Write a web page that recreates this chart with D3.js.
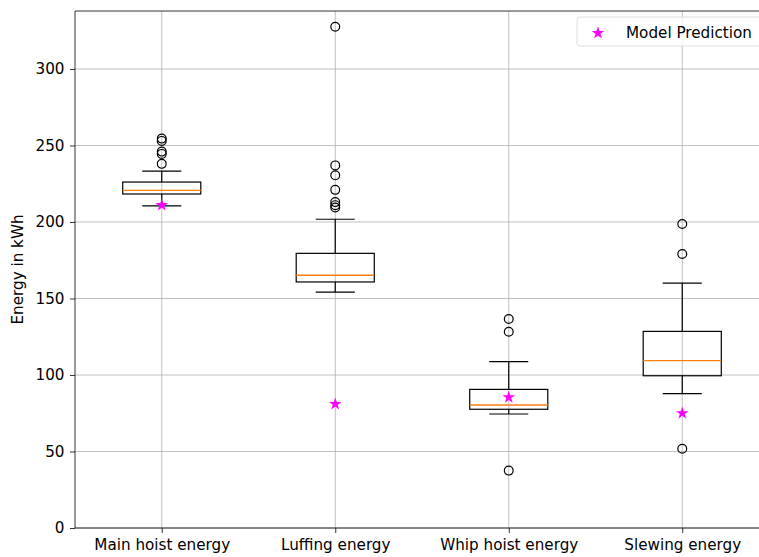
<!DOCTYPE html>
<html>
<head>
<meta charset="utf-8">
<script src="https://cdn.jsdelivr.net/npm/d3@7"></script>
<style>
    body { margin: 0; background: #fff; }
    svg { display: block; font-family: "DejaVu Sans", sans-serif; }
</style>
</head>
<body>
<div id="chart"></div>
<script>
const categories = ['Main hoist energy', 'Luffing energy', 'Whip hoist energy', 'Slewing energy'];
const q1 = [218.3, 160.8, 77.6, 99.5];
const medians = [220.7, 165.2, 80.4, 109.4];
const q3 = [226.1, 179.5, 90.6, 128.5];
const whiskerLow = [210.5, 154.2, 74.5, 87.8];
const whiskerHigh = [233.3, 201.8, 108.7, 160.1];
const outliers = [
    [254.5, 253, 246, 244.5, 238],
    [327.6, 237, 230.5, 221, 213, 211, 209.5],
    [136.6, 128.3, 37.5],
    [198.7, 179.1, 51.8]
];
const predictions = [211, 81, 85.4, 75];
const yTicks = [0, 50, 100, 150, 200, 250, 300];

const width = 759,
    height = 557;
const margin = { top: 11, left: 75, bottom: 29 };
const plotRight = 769; // right spine sits outside the cropped picture
const fontSize = 15.2;

const svg = d3.select('#chart')
    .append('svg')
    .attr('width', width)
    .attr('height', height);

const x = d3.scaleLinear()
    .domain([0.5, 4.5])
    .range([margin.left, plotRight]);

const y = d3.scaleLinear()
    .domain([0, 337.9])
    .range([height - margin.bottom, margin.top]);

const boxW = x(1.45) - x(1);
const capW = boxW / 2;

// grid
svg.append('g')
    .selectAll('line.gy')
    .data(yTicks)
    .join('line')
    .attr('x1', margin.left).attr('x2', plotRight)
    .attr('y1', d => y(d)).attr('y2', d => y(d))
    .attr('stroke', '#b0b0b0').attr('stroke-width', 0.8);

svg.append('g')
    .selectAll('line.gx')
    .data(categories)
    .join('line')
    .attr('x1', (d, i) => x(i + 1)).attr('x2', (d, i) => x(i + 1))
    .attr('y1', y.range()[1]).attr('y2', y.range()[0])
    .attr('stroke', '#b0b0b0').attr('stroke-width', 0.8);

// axes
const yAxis = svg.append('g')
    .attr('transform', 'translate(' + margin.left + ',0)')
    .call(d3.axisLeft(y).tickValues(yTicks).tickSize(5).tickPadding(5.5).tickSizeOuter(0));

const xAxis = svg.append('g')
    .attr('transform', 'translate(0,' + y(0) + ')')
    .call(d3.axisBottom(x).tickValues([1, 2, 3, 4]).tickFormat((d) => categories[d - 1])
        .tickSize(5).tickPadding(6.5).tickSizeOuter(0));

[yAxis, xAxis].forEach(function(g) {
    g.select('.domain').remove();
    g.selectAll('text').attr('font-size', fontSize).attr('fill', '#000')
        .attr('font-family', '"DejaVu Sans", sans-serif');
    g.selectAll('line').attr('stroke', '#000').attr('stroke-width', 0.8);
});

// spines
svg.append('path')
    .attr('d', 'M' + plotRight + ',' + y.range()[1] + 'H' + margin.left + 'V' + y(0) + 'H' + plotRight)
    .attr('fill', 'none')
    .attr('stroke', '#000')
    .attr('stroke-width', 0.8);

svg.append('text')
    .attr('transform', 'translate(22.5,' + ((y.range()[0] + y.range()[1]) / 2) + ') rotate(-90)')
    .attr('text-anchor', 'middle')
    .attr('font-size', fontSize)
    .text('Energy in kWh');

// boxes
const boxes = svg.append('g')
    .selectAll('g')
    .data(categories)
    .join('g');

boxes.append('line')
    .attr('x1', (d, i) => x(i + 1)).attr('x2', (d, i) => x(i + 1))
    .attr('y1', (d, i) => y(q3[i])).attr('y2', (d, i) => y(whiskerHigh[i]))
    .attr('stroke', '#000').attr('stroke-width', 1.2);

boxes.append('line')
    .attr('x1', (d, i) => x(i + 1)).attr('x2', (d, i) => x(i + 1))
    .attr('y1', (d, i) => y(q1[i])).attr('y2', (d, i) => y(whiskerLow[i]))
    .attr('stroke', '#000').attr('stroke-width', 1.2);

boxes.selectAll('line.cap')
    .data((d, i) => [[i, whiskerLow[i]], [i, whiskerHigh[i]]])
    .join('line')
    .attr('x1', d => x(d[0] + 1) - capW / 2).attr('x2', d => x(d[0] + 1) + capW / 2)
    .attr('y1', d => y(d[1])).attr('y2', d => y(d[1]))
    .attr('stroke', '#000').attr('stroke-width', 1.2);

boxes.append('rect')
    .attr('x', (d, i) => x(i + 1) - boxW / 2)
    .attr('y', (d, i) => y(q3[i]))
    .attr('width', boxW)
    .attr('height', (d, i) => y(q1[i]) - y(q3[i]))
    .attr('fill', 'none')
    .attr('stroke', '#000').attr('stroke-width', 1.2);

boxes.append('line')
    .attr('x1', (d, i) => x(i + 1) - boxW / 2).attr('x2', (d, i) => x(i + 1) + boxW / 2)
    .attr('y1', (d, i) => y(medians[i])).attr('y2', (d, i) => y(medians[i]))
    .attr('stroke', '#ff7f0e').attr('stroke-width', 1.3);

boxes.selectAll('circle')
    .data((d, i) => outliers[i].map(v => [i, v]))
    .join('circle')
    .attr('cx', d => x(d[0] + 1))
    .attr('cy', d => y(d[1]))
    .attr('r', 4.4)
    .attr('fill', 'none')
    .attr('stroke', '#000').attr('stroke-width', 1.2);

const star = d3.symbol().type(d3.symbolStar).size(50);

svg.append('g')
    .selectAll('path')
    .data(predictions)
    .join('path')
    .attr('d', star)
    .attr('transform', (d, i) => 'translate(' + x(i + 1) + ',' + y(d) + ')')
    .attr('fill', '#ff00ff');

// legend
const legend = svg.append('g').attr('transform', 'translate(577,17)');
legend.append('rect')
    .attr('width', 200).attr('height', 29)
    .attr('rx', 3)
    .attr('fill', 'rgba(255,255,255,0.8)')
    .attr('stroke', '#d5d5d5').attr('stroke-width', 0.8);
legend.append('path')
    .attr('d', star)
    .attr('transform', 'translate(21,16)')
    .attr('fill', '#ff00ff');
legend.append('text')
    .attr('x', 49).attr('y', 21)
    .attr('font-size', fontSize)
    .text('Model Prediction');
</script>
</body>
</html>
